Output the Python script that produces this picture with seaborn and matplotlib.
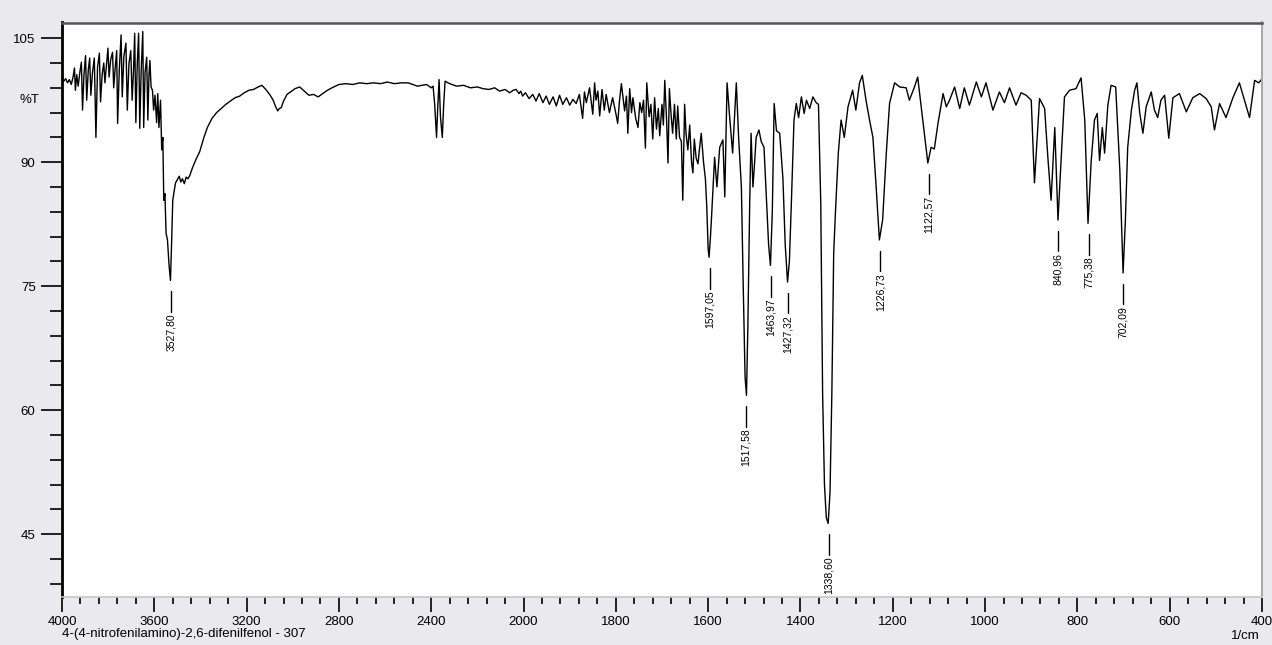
import numpy as np
import pandas as pd
import seaborn as sns
import matplotlib.pyplot as plt
from matplotlib.ticker import FixedLocator, NullFormatter
from matplotlib.transforms import blended_transform_factory

# spectrum, as (wavenumber 1/cm, %T) pairs, one list per stretch
oh_band = [
    (4000, 100.2), (3992, 99.8), (3984, 100.1), (3976, 99.6), (3968, 100.0), (3960, 99.4),
    (3952, 100.3), (3946, 101.4), (3942, 98.7), (3936, 100.6), (3930, 99.2), (3922, 101.0),
    (3916, 102.1), (3911, 96.3), (3905, 100.5), (3898, 102.9), (3893, 97.5), (3886, 101.2),
    (3880, 102.6), (3875, 98.1), (3868, 100.8), (3860, 102.6), (3853, 93.0), (3846, 101.5),
    (3838, 103.2), (3833, 97.3), (3826, 100.6), (3819, 102.0), (3814, 99.6), (3807, 101.8),
    (3801, 103.8), (3796, 100.3), (3789, 102.4), (3781, 103.3), (3776, 99.0), (3769, 101.6),
    (3763, 103.5), (3759, 94.7), (3752, 101.0), (3744, 105.4), (3739, 97.9), (3732, 102.8),
    (3723, 104.4), (3717, 96.3), (3710, 101.9), (3702, 103.5), (3696, 97.5), (3690, 101.2),
    (3685, 105.6), (3680, 94.8), (3674, 101.8), (3668, 105.6), (3663, 94.1), (3657, 101.0),
    (3650, 105.8), (3646, 94.2), (3640, 100.9), (3633, 102.7), (3628, 95.1), (3623, 100.6),
    (3619, 102.3), (3614, 99.1), (3608, 98.7), (3603, 96.3), (3597, 98.1), (3590, 94.8),
    (3585, 98.3), (3580, 94.2), (3573, 97.5), (3568, 91.5), (3563, 93.0), (3559, 85.4),
    (3554, 86.2), (3549, 81.4), (3543, 80.6), (3536, 77.5), (3530, 75.7), (3525, 80.3),
    (3520, 85.4), (3514, 86.5), (3508, 87.5), (3500, 87.9), (3492, 88.3), (3485, 87.6),
    (3478, 88.0), (3470, 87.4), (3462, 88.2), (3454, 88.0), (3446, 88.4), (3435, 89.3),
    (3420, 90.3), (3403, 91.3),
]
mid_band = [
    (3385, 93.0), (3370, 94.2), (3350, 95.3), (3330, 96.0), (3310, 96.5), (3290, 97.0),
    (3270, 97.4), (3250, 97.8), (3230, 98.0), (3210, 98.4), (3190, 98.7), (3170, 98.8),
    (3150, 99.1), (3134, 99.3), (3120, 98.9), (3100, 98.2), (3085, 97.5), (3074, 96.7),
    (3065, 96.2), (3058, 96.5), (3050, 96.6), (3040, 97.4), (3025, 98.2), (3010, 98.5),
    (2990, 98.9), (2970, 99.1), (2950, 98.6), (2930, 98.1), (2910, 98.2), (2890, 97.9),
    (2870, 98.3), (2850, 98.7), (2830, 99.0), (2800, 99.4), (2770, 99.5), (2740, 99.4),
    (2710, 99.6), (2680, 99.5), (2650, 99.6), (2620, 99.5), (2590, 99.7), (2560, 99.5),
    (2530, 99.6), (2500, 99.6), (2460, 99.2), (2420, 99.4), (2400, 99.0), (2392, 99.2),
    (2385, 97.0), (2377, 93.0), (2372, 96.5), (2366, 100.0), (2360, 95.5), (2352, 93.0),
    (2346, 97.0), (2340, 99.8), (2320, 99.5), (2290, 99.2), (2260, 99.3), (2230, 99.0),
    (2200, 99.1), (2176, 98.9), (2150, 98.8), (2125, 99.0), (2104, 98.6), (2080, 98.8),
    (2060, 98.4), (2045, 98.7),
]
hi_fingerprint = [
    (2032, 98.8), (2020, 98.3), (2012, 98.6), (2004, 98.0), (1996, 98.4), (1988, 97.7),
    (1980, 98.2), (1973, 97.4), (1966, 98.3), (1958, 97.2), (1951, 98.0), (1944, 97.0),
    (1936, 97.9), (1929, 96.8), (1922, 98.1), (1915, 97.0), (1907, 97.8), (1900, 96.9),
    (1893, 97.6), (1886, 97.1), (1879, 98.2), (1872, 95.3), (1868, 98.5), (1864, 97.2),
    (1857, 99.0), (1850, 95.8), (1846, 99.6), (1843, 97.5), (1839, 98.6), (1835, 95.6),
    (1830, 98.8), (1825, 96.3), (1821, 98.2), (1814, 96.0), (1807, 97.8), (1800, 95.9),
    (1796, 94.7), (1792, 97.5), (1788, 99.5), (1781, 96.2), (1777, 98.0), (1774, 93.5),
    (1770, 98.9), (1766, 96.0), (1763, 97.8), (1757, 95.3), (1752, 94.2), (1748, 97.2),
    (1744, 96.0), (1740, 97.5), (1736, 91.7), (1733, 99.6), (1728, 95.5), (1724, 97.0),
    (1720, 92.8), (1716, 97.8), (1712, 94.0), (1708, 96.5), (1705, 93.2), (1700, 97.0),
    (1697, 94.5), (1694, 99.9), (1690, 95.0), (1687, 89.9), (1684, 98.9), (1680, 95.5),
    (1677, 93.5), (1673, 97.0), (1669, 92.8), (1666, 96.8), (1662, 93.0), (1658, 92.5),
    (1655, 85.4), (1651, 97.0), (1648, 93.5), (1644, 91.5), (1640, 94.5), (1636, 90.0),
    (1633, 88.7), (1630, 92.8), (1626, 90.5), (1622, 89.8), (1619, 91.5), (1615, 93.5),
    (1610, 90.0), (1606, 88.0),
]
mid_fingerprint = [
    (1603, 84.6), (1600, 79.5), (1598, 78.5), (1595, 81.0), (1593, 83.0), (1586, 90.6),
    (1581, 87.0), (1575, 91.8), (1568, 92.7), (1564, 85.8), (1559, 99.6), (1554, 95.9),
    (1547, 91.1), (1539, 99.6), (1534, 93.0), (1528, 87.0), (1524, 75.0), (1520, 64.0),
    (1517, 61.8), (1514, 70.0), (1510, 85.0), (1507, 93.5), (1503, 87.0), (1500, 89.4),
    (1496, 93.0), (1490, 93.9), (1485, 92.5), (1479, 91.8), (1474, 86.0), (1469, 80.0),
    (1465, 77.5), (1461, 84.0), (1457, 97.1), (1452, 93.8), (1445, 93.5), (1438, 88.0),
    (1433, 80.0), (1428, 75.5), (1424, 78.0), (1420, 84.6), (1414, 95.1), (1409, 97.1),
    (1404, 95.4), (1398, 97.9), (1392, 95.9), (1387, 97.5), (1380, 96.5), (1373, 97.9),
    (1366, 97.2), (1361, 97.0), (1356, 85.0), (1352, 62.0), (1348, 51.0), (1344, 47.0),
    (1340, 46.3), (1336, 50.0), (1332, 62.0), (1328, 79.0), (1324, 84.2), (1318, 91.1),
    (1312, 95.1), (1305, 93.0), (1297, 96.7), (1287, 98.7), (1280, 96.3), (1272, 99.6),
    (1266, 100.5), (1258, 97.5), (1250, 95.0), (1243, 93.0), (1236, 87.0), (1229, 80.6),
    (1222, 83.0), (1214, 91.1), (1207, 97.1), (1196, 99.6), (1185, 99.1), (1171, 99.0),
    (1164, 97.5), (1153, 99.1), (1146, 100.3), (1135, 95.1), (1124, 89.9), (1117, 91.8),
    (1110, 91.6), (1102, 94.7),
]
lo_fingerprint = [
    (1091, 98.3), (1084, 96.7), (1077, 97.5), (1066, 99.1), (1055, 96.5), (1045, 99.0),
    (1034, 96.9), (1019, 99.7), (1008, 97.9), (998, 99.6), (983, 96.3), (969, 98.5),
    (958, 97.2), (947, 99.0), (933, 96.9), (922, 98.4), (911, 98.1), (900, 97.5),
    (893, 87.5), (882, 97.7), (871, 96.5), (864, 90.6), (857, 85.4), (849, 94.2),
    (842, 83.0), (835, 90.6), (828, 97.9), (817, 98.7), (803, 98.9), (792, 100.2),
    (784, 95.1), (777, 82.6), (770, 90.2), (763, 95.1), (757, 95.9), (752, 90.2),
    (746, 94.2), (741, 91.1), (734, 96.9), (727, 99.3), (717, 99.1), (708, 89.0),
    (701, 76.6), (696, 83.0), (691, 91.8), (683, 96.3), (676, 98.7), (671, 99.6),
    (665, 96.0), (658, 93.5), (651, 96.7), (640, 98.5), (633, 96.3), (626, 95.4),
    (619, 97.5), (611, 98.1), (602, 92.9), (593, 97.8), (579, 98.3), (564, 96.1),
    (550, 97.8), (535, 98.3), (521, 97.7), (510, 96.7), (503, 93.9), (492, 97.1),
    (478, 95.4), (463, 97.8), (449, 99.6), (438, 97.5), (427, 95.4), (416, 99.9),
    (407, 99.6), (400, 100.1),
]

peak_positions = [3527.80, 1597.05, 1517.58, 1463.97, 1427.32, 1338.60, 1226.73,
                  1122.57, 840.96, 775.38, 702.09]
peak_labels = ["3527,80", "1597,05", "1517,58", "1463,97", "1427,32", "1338,60", "1226,73",
               "1122,57", "840,96", "775,38", "702,09"]

major_x = [4000, 3600, 3200, 2800, 2400, 2000, 1800, 1600, 1400, 1200, 1000, 800, 600, 400]
major_y = [45, 60, 75, 90, 105]

spectrum = pd.DataFrame(oh_band + mid_band + hi_fingerprint + mid_fingerprint + lo_fingerprint,
                        columns=["wavenumber", "T"])


# the instrument doubles the scale below 2000 1/cm
def fwd(w):
    w = np.asarray(w, dtype=float)
    return np.where(w >= 2000, w, 2 * w - 2000)


def inv(u):
    u = np.asarray(u, dtype=float)
    return np.where(u >= 2000, u, (u + 2000) / 2)


sns.set_style("white")
plt.rcParams["font.family"] = ["Liberation Sans", "DejaVu Sans"]
plt.rcParams["text.color"] = "black"
plt.rcParams["xtick.color"] = "black"
plt.rcParams["ytick.color"] = "black"

bg = "#e9e9ee"
fig = plt.figure(figsize=(12.72, 6.45), dpi=100, facecolor=bg)
ax = fig.add_axes([62 / 1272, 1 - 597 / 645, 1200 / 1272, 574.5 / 645])
ax.set_facecolor("white")

sns.lineplot(data=spectrum, x="wavenumber", y="T", sort=False, estimator=None,
             color="black", linewidth=1.0, ax=ax)

ax.set_xscale("function", functions=(fwd, inv))
ax.set_xlim(4000, 400)
ax.set_ylim(37.4, 106.9)

# peak markers
for pos, lab in zip(peak_positions, peak_labels):
    near = spectrum[(spectrum.wavenumber > pos - 9) & (spectrum.wavenumber < pos + 9)]
    vmin = near["T"].min()
    top = vmin - 1.3
    bot = top - 2.5
    ax.plot([pos, pos], [top, bot], color="black", linewidth=1.0)
    ax.text(pos, bot - 0.2, lab, rotation=90, ha="center", va="top", fontsize=7.5,
            color="black")

# axes cosmetics
ax.xaxis.set_major_locator(FixedLocator(major_x))
minor_x = list(np.arange(4000, 2000, -80)) + list(np.arange(2000, 399, -40))
ax.xaxis.set_minor_locator(FixedLocator(minor_x))
ax.xaxis.set_minor_formatter(NullFormatter())
ax.set_xticklabels([str(v) for v in major_x])
ax.yaxis.set_major_locator(FixedLocator(major_y))
ax.yaxis.set_minor_locator(FixedLocator(list(range(39, 106, 3))))
ax.set_yticklabels([str(v) for v in major_y])

ax.tick_params(which="both", bottom=True, left=True, top=False, right=False)
ax.tick_params(axis="x", which="major", direction="out", length=11, width=1.2, pad=3,
               labelsize=9.5, color="black", labelcolor="black")
ax.tick_params(axis="x", which="minor", direction="out", length=5, width=1.2, color="black")
ax.tick_params(axis="y", which="major", direction="out", length=15, width=1.2, pad=4,
               labelsize=9.5, color="black", labelcolor="black")
ax.tick_params(axis="y", which="minor", direction="out", length=8.5, width=1.2, color="black")

ax.spines["left"].set_color("black")
ax.spines["left"].set_linewidth(2)
ax.spines["top"].set_color("#555555")
ax.spines["top"].set_linewidth(1.8)
ax.spines["right"].set_color("#aaaaaa")
ax.spines["right"].set_linewidth(1.5)
ax.spines["bottom"].set_color("#c8c8c8")
ax.spines["bottom"].set_linewidth(1.2)

ax.set_xlabel("")
ax.set_ylabel("")

tr = blended_transform_factory(ax.transAxes, ax.transData)
ax.text(-0.0275, 97.5, "%T", transform=tr, ha="center", va="center", fontsize=9.5,
        color="black")
fig.text(62 / 1272, 1 - 634 / 645, "4-(4-nitrofenilamino)-2,6-difenilfenol - 307",
         ha="left", va="center", fontsize=9.5, color="black")
fig.text(1260 / 1272, 1 - 636 / 645, "1/cm", ha="right", va="center", fontsize=9.5,
         color="black")

fig.savefig("out.png", dpi=100, facecolor=bg)
